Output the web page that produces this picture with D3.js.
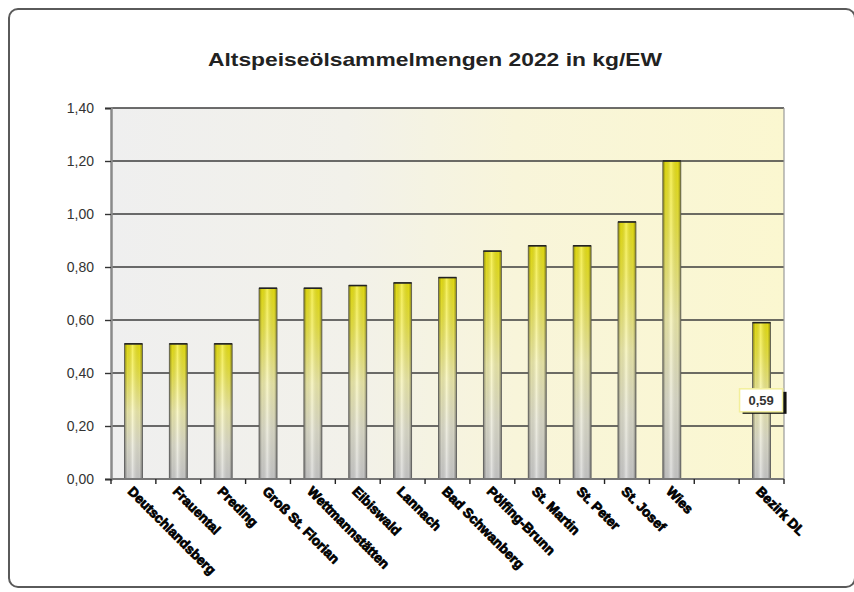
<!DOCTYPE html>
<html>
<head>
<meta charset="utf-8">
<script src="https://cdn.jsdelivr.net/npm/d3@7"></script>
<style>
  html, body { margin: 0; padding: 0; background: #ffffff; }
  svg { display: block; font-family: "Liberation Sans", Arial, sans-serif; }
</style>
</head>
<body>
<svg id="chart" width="854" height="592"></svg>
<script>
// Municipalities of the district, plus the district average at the end
const categories = [
  "Deutschlandsberg", "Frauental", "Preding", "Groß St. Florian",
  "Wettmannstätten", "Eibiswald", "Lannach", "Bad Schwanberg",
  "Pölfing-Brunn", "St. Martin", "St. Peter", "St. Josef", "Wies",
  "", "Bezirk DL"
];
// Collected used cooking oil, kg per inhabitant (null = empty slot)
const values = [
  0.51, 0.51, 0.51, 0.72,
  0.72, 0.73, 0.74, 0.76,
  0.86, 0.88, 0.88, 0.97, 1.20,
  null, 0.59
];
// Only the district bar carries a value label
const labelledCategories = ["Bezirk DL"];
const yTicks = [0, 0.2, 0.4, 0.6, 0.8, 1.0, 1.2, 1.4];
const title = "Altspeiseölsammelmengen 2022 in kg/EW";

const data = categories.map((c, i) => ({ key: i, name: c, value: values[i] }));

const svg = d3.select("#chart");
const plot = { left: 111, right: 784, top: 108, bottom: 479 };

const fmt = v => d3.format(".2f")(v).replace(".", ",");

// ---- gradients ----
const defs = svg.append("defs");

const bg = defs.append("linearGradient").attr("id", "plotBg")
  .attr("x1", "0").attr("x2", "1").attr("y1", "0").attr("y2", "0");
bg.append("stop").attr("offset", "0").attr("stop-color", "#efefef");
bg.append("stop").attr("offset", "0.35").attr("stop-color", "#f2f1ea");
bg.append("stop").attr("offset", "0.6").attr("stop-color", "#f8f5da");
bg.append("stop").attr("offset", "1").attr("stop-color", "#fbf7d0");

const barV = defs.append("linearGradient").attr("id", "barV")
  .attr("x1", "0").attr("x2", "0").attr("y1", "0").attr("y2", "1");
barV.append("stop").attr("offset", "0").attr("stop-color", "#f2ea12");
barV.append("stop").attr("offset", "0.2").attr("stop-color", "#f3ed45");
barV.append("stop").attr("offset", "0.5").attr("stop-color", "#f7f4b0");
barV.append("stop").attr("offset", "0.75").attr("stop-color", "#e6e5d2");
barV.append("stop").attr("offset", "1").attr("stop-color", "#d2d2d2");

const barH = defs.append("linearGradient").attr("id", "barH")
  .attr("x1", "0").attr("x2", "1").attr("y1", "0").attr("y2", "0");
barH.append("stop").attr("offset", "0").attr("stop-color", "#000").attr("stop-opacity", 0.45);
barH.append("stop").attr("offset", "0.16").attr("stop-color", "#000").attr("stop-opacity", 0.08);
barH.append("stop").attr("offset", "0.45").attr("stop-color", "#fff").attr("stop-opacity", 0.3);
barH.append("stop").attr("offset", "0.84").attr("stop-color", "#000").attr("stop-opacity", 0.08);
barH.append("stop").attr("offset", "1").attr("stop-color", "#000").attr("stop-opacity", 0.45);

// ---- chart frame ----
svg.append("rect")
  .attr("x", 9).attr("y", 9).attr("width", 846).attr("height", 578)
  .attr("rx", 9).attr("ry", 9)
  .attr("fill", "#ffffff").attr("stroke", "#5a5a5a").attr("stroke-width", 2);

svg.append("text")
  .attr("x", 435).attr("y", 66)
  .attr("text-anchor", "middle")
  .attr("font-size", 18.5).attr("font-weight", "bold").attr("fill", "#222")
  .attr("textLength", 454).attr("lengthAdjust", "spacingAndGlyphs")
  .text(title);

// ---- scales ----
const x = d3.scaleBand().domain(data.map(d => d.key)).range([plot.left, plot.right]).padding(0);
const y = d3.scaleLinear().domain([0, 1.4]).range([plot.bottom, plot.top]);

// plot background
svg.append("rect")
  .attr("x", plot.left).attr("y", plot.top)
  .attr("width", plot.right - plot.left).attr("height", plot.bottom - plot.top)
  .attr("fill", "url(#plotBg)");

// gridlines
svg.append("g").selectAll("line").data(yTicks.filter(t => t > 0)).join("line")
  .attr("x1", plot.left).attr("x2", plot.right)
  .attr("y1", d => y(d)).attr("y2", d => y(d))
  .attr("stroke", "#3c3c3c").attr("stroke-width", 1.6);

// right border of the plot area
svg.append("line")
  .attr("x1", plot.right).attr("x2", plot.right)
  .attr("y1", plot.top).attr("y2", plot.bottom)
  .attr("stroke", "#9a9a9a").attr("stroke-width", 1.2);

// y axis
const yAxis = svg.append("g").attr("transform", `translate(${plot.left},0)`)
  .call(d3.axisLeft(y).tickValues(yTicks).tickFormat(fmt).tickSize(6).tickPadding(11));
yAxis.select(".domain").attr("stroke", "#8a8a8a").attr("stroke-width", 2.5);
yAxis.selectAll(".tick line").attr("stroke", "#333").attr("stroke-width", 1.4);
yAxis.selectAll(".tick text").attr("font-size", 14).attr("fill", "#333")
  .attr("font-family", "'Liberation Sans', Arial, sans-serif");

// bars
const barW = 18;
const bars = svg.append("g").selectAll("g").data(data.filter(d => d.value != null)).join("g")
  .attr("transform", d => `translate(${x(d.key) + x.bandwidth() / 2 - barW / 2},0)`);
bars.append("rect")
  .attr("y", d => y(d.value)).attr("width", barW)
  .attr("height", d => y(0) - y(d.value))
  .attr("fill", "url(#barV)");
bars.append("rect")
  .attr("y", d => y(d.value)).attr("width", barW)
  .attr("height", d => y(0) - y(d.value))
  .attr("fill", "url(#barH)")
  .attr("stroke", "#555").attr("stroke-width", 0.8);
bars.append("line")
  .attr("x1", 0).attr("x2", barW)
  .attr("y1", d => y(d.value)).attr("y2", d => y(d.value))
  .attr("stroke", "#222").attr("stroke-width", 1.6);

// x axis line and ticks at category boundaries
svg.append("line")
  .attr("x1", plot.left).attr("x2", plot.right)
  .attr("y1", plot.bottom).attr("y2", plot.bottom)
  .attr("stroke", "#777").attr("stroke-width", 2);
const boundaries = data.map(d => x(d.key)).concat([x(data[data.length - 1].key) + x.bandwidth()]);
svg.append("g").selectAll("line").data(boundaries).join("line")
  .attr("x1", d => d).attr("x2", d => d)
  .attr("y1", plot.bottom).attr("y2", plot.bottom + 5)
  .attr("stroke", "#222").attr("stroke-width", 1.4);

// rotated category labels
svg.append("g").selectAll("text").data(data.filter(d => d.name)).join("text")
  .attr("transform", d => `translate(${x(d.key) + x.bandwidth() / 2 - 3},${plot.bottom + 10}) rotate(45)`)
  .attr("font-size", 13.5).attr("font-weight", "bold").attr("fill", "#000")
  .attr("stroke", "#000").attr("stroke-width", 0.8)
  .attr("dy", "0.35em")
  .text(d => d.name);

// value label for the district average
const lab = svg.append("g").selectAll("g")
  .data(data.filter(d => labelledCategories.includes(d.name))).join("g")
  .attr("transform", d => `translate(${x(d.key) + x.bandwidth() / 2},${y(d.value / 2)})`);
lab.append("rect")
  .attr("x", -19).attr("y", -9).attr("width", 44).attr("height", 22)
  .attr("fill", "#111");
lab.append("rect")
  .attr("x", -22).attr("y", -12).attr("width", 43).attr("height", 23)
  .attr("fill", "#ffffff").attr("stroke", "#f3ef9a").attr("stroke-width", 1.5);
lab.append("text")
  .attr("x", -0.5).attr("y", 0)
  .attr("text-anchor", "middle").attr("dy", "0.35em")
  .attr("font-size", 13).attr("font-weight", "bold").attr("fill", "#333")
  .text(d => fmt(d.value));
</script>
</body>
</html>
